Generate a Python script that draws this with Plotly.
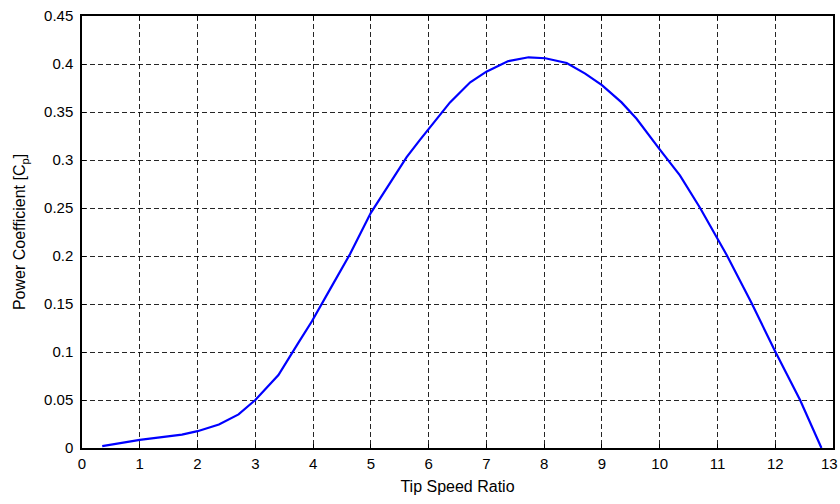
import plotly.graph_objects as go

tsr = [0.35, 1.0, 1.73, 2.0, 2.37, 2.71, 3.0, 3.4, 3.75, 3.98, 4.3, 4.64, 5.0, 5.35,
       5.62, 5.85, 6.2, 6.37, 6.72, 7.0, 7.38, 7.73, 8.02, 8.39, 8.71, 9.0, 9.34,
       9.6, 10.0, 10.35, 10.7, 10.99, 11.16, 11.59, 12.0, 12.43, 12.8]
cp = [0.002, 0.0085, 0.014, 0.0175, 0.0244, 0.035, 0.050, 0.076, 0.11, 0.132, 0.166,
      0.202, 0.245, 0.278, 0.303, 0.321, 0.348, 0.360, 0.381, 0.392, 0.403, 0.407,
      0.406, 0.401, 0.390, 0.378, 0.360, 0.343, 0.311, 0.284, 0.250, 0.220, 0.201,
      0.151, 0.1006, 0.050, 0.0]

x_ticks = list(range(0, 14))
x_tick_text = [str(v) for v in x_ticks]
y_ticks = [0, 0.05, 0.1, 0.15, 0.2, 0.25, 0.3, 0.35, 0.4, 0.45]
y_tick_text = ["0", "0.05", "0.1", "0.15", "0.2", "0.25", "0.3", "0.35", "0.4", "0.45"]

font_family = "Liberation Sans, Arial, sans-serif"
tick_font = dict(family=font_family, size=15, color="black")

fig = go.Figure()
fig.add_trace(go.Scatter(x=tsr, y=cp, mode="lines",
                         line=dict(color="#0000FF", width=2.2),
                         showlegend=False, cliponaxis=False))

axis_common = dict(
    showline=True, linecolor="black", linewidth=1.5, mirror="ticks",
    ticks="inside", ticklen=4, tickcolor="black", tickwidth=1,
    showgrid=True, gridcolor="rgba(0,0,0,0.85)", gridwidth=1, griddash="5px,3px",
    zeroline=False, tickfont=tick_font,
    ticklabeloverflow="allow",
)

# the last x tick (13) lies on the right frame edge; Plotly hides its label,
# so it is drawn as an annotation instead
fig.update_xaxes(range=[0, 13], tickvals=x_ticks[:-1], ticktext=x_tick_text[:-1],
                 ticklabelstandoff=1,
                 title=dict(text="Tip Speed Ratio", font=dict(family=font_family, size=16, color="black"), standoff=10),
                 **axis_common)
fig.add_annotation(x=1, xref="paper", y=0, yref="paper", text=x_tick_text[-1],
                   showarrow=False, xanchor="right", yanchor="middle", xshift=6, yshift=-15,
                   borderpad=0, font=tick_font)
fig.update_yaxes(range=[0, 0.45], tickvals=y_ticks, ticktext=y_tick_text,
                 ticklabelstandoff=4,
                 title=dict(text="Power Coefficient [C<sub>p</sub>]", font=dict(family=font_family, size=16, color="black"), standoff=14),
                 **axis_common)

fig.update_layout(
    width=840, height=504,
    margin=dict(l=82, r=7, t=16, b=56, autoexpand=False),
    paper_bgcolor="white", plot_bgcolor="white",
    font=dict(family=font_family, color="black"),
)

fig.write_html("out.html")
